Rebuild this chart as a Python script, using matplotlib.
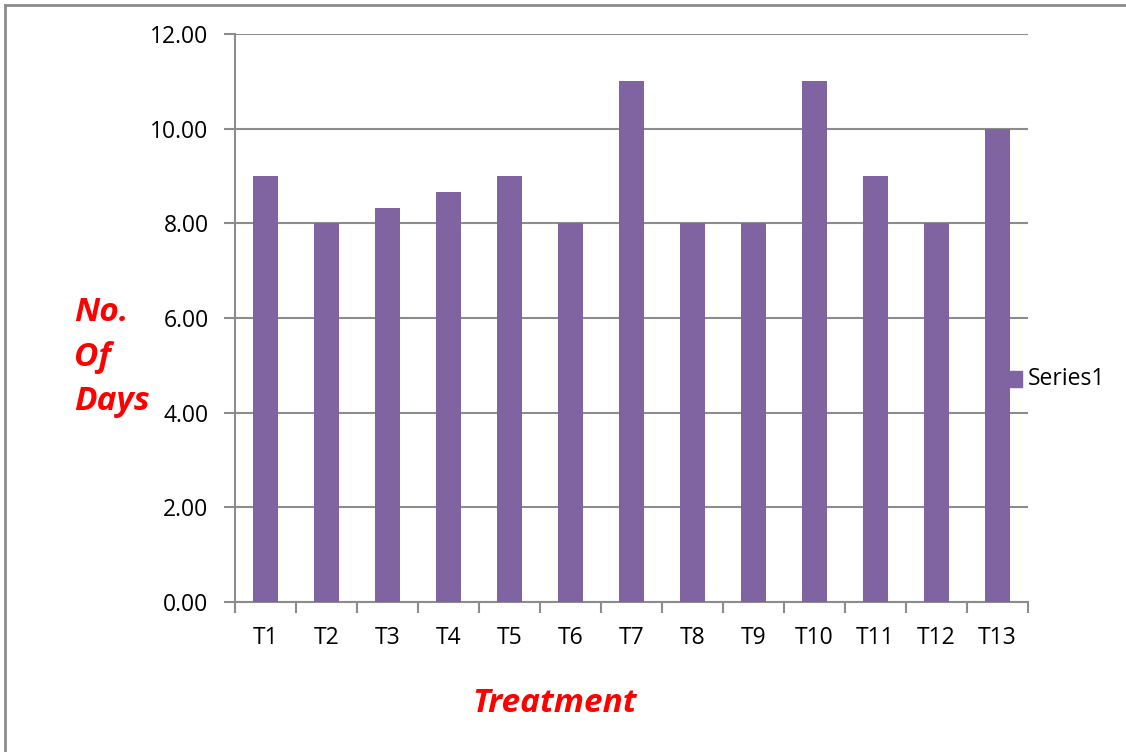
import matplotlib
matplotlib.use("Agg")
import matplotlib.pyplot as plt
from matplotlib.lines import Line2D
from matplotlib.patches import Rectangle

treatments = ["T1", "T2", "T3", "T4", "T5", "T6", "T7", "T8", "T9", "T10", "T11", "T12", "T13"]
days = [9.00, 8.00, 8.33, 8.67, 9.00, 8.00, 11.00, 8.00, 8.00, 11.00, 9.00, 8.00, 10.00]
y_ticks = [0, 2, 4, 6, 8, 10, 12]

plt.rcParams['font.family'] = ['Open Sans', 'DejaVu Sans']

W, H = 1126, 752
fig = plt.figure(figsize=(W / 100, H / 100), dpi=100)
ax = fig.add_axes([235 / W, 1 - 602 / H, (1028 - 235) / W, (602 - 34) / H])

bar_color = "#8064A2"
grid_color = "#8C8C8C"
x = list(range(len(treatments)))
ax.bar(x, days, width=0.41, color=bar_color, zorder=3, label="Series1")

ax.set_xlim(-0.5, len(treatments) - 0.5)
ax.set_ylim(0, 12)
ax.set_yticks(y_ticks)
ax.set_yticklabels([f"{v:.2f}" for v in y_ticks], fontsize=16.5)
ax.yaxis.grid(True, color=grid_color, linewidth=1.5, zorder=0)

ax.set_xticks([i - 0.5 for i in range(len(treatments) + 1)])
ax.set_xticklabels([])
ax.set_xticks(x, minor=True)
ax.set_xticklabels(treatments, minor=True, fontsize=16.5)
ax.tick_params(axis="x", which="major", direction="out", length=8, width=1.5, color=grid_color)
ax.tick_params(axis="x", which="minor", length=0, pad=17)
ax.tick_params(axis="y", direction="out", length=8, width=1.5, color=grid_color, pad=11)

for side in ("top", "right"):
    ax.spines[side].set_visible(False)
for side in ("left", "bottom"):
    ax.spines[side].set_color(grid_color)
    ax.spines[side].set_linewidth(1.5)

# Axis titles
fig.text(74 / W, 1 - 357 / H, "No.\nOf\nDays", color="red", fontsize=24,
         fontweight="bold", fontstyle="italic", ha="left", va="center",
         linespacing=1.45)
fig.text(555 / W, 1 - 704 / H, "Treatment", color="red", fontsize=24,
         fontweight="bold", fontstyle="italic", ha="center", va="center")

# Legend entry
fig.patches.append(Rectangle((1010 / W, 1 - 387 / H), 12 / W, 16 / H,
                             transform=fig.transFigure, color=bar_color))
fig.text(1028 / W, 1 - 379 / H, "Series1", fontsize=16.5, ha="left", va="center")

# Chart frame (top and left edges)
fig.add_artist(Line2D([5 / W, 1], [1 - 5 / H, 1 - 5 / H], color=grid_color,
                      linewidth=2, transform=fig.transFigure))
fig.add_artist(Line2D([5 / W, 5 / W], [0, 1 - 5 / H], color=grid_color,
                      linewidth=2, transform=fig.transFigure))

fig.savefig("out.png", dpi=100)
